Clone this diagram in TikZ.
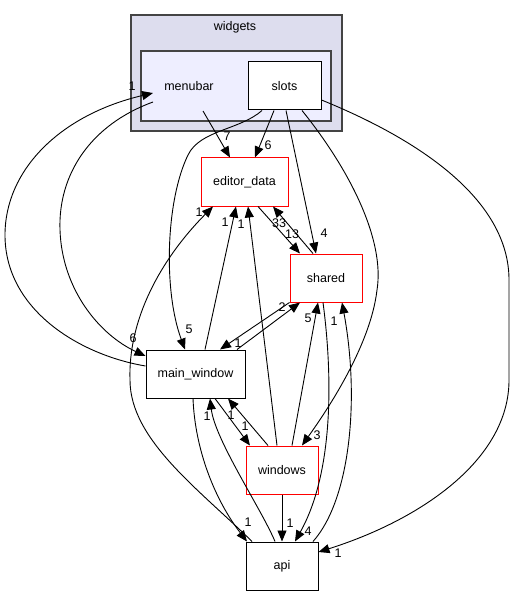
\documentclass[tikz,border=0pt]{standalone}
\usepackage{fontspec}
\setmainfont{Liberation Sans}
\usetikzlibrary{arrows.meta}
\definecolor{bord}{HTML}{444444}
\definecolor{outerfill}{HTML}{DDDDEE}
\definecolor{innerfill}{HTML}{EEEEFF}
\begin{document}
\begin{tikzpicture}[x=1pt,y=-1pt, font=\fontsize{12.5}{14}\selectfont,
  box/.style={draw=black, line width=1pt, fill=white, minimum height=48pt, inner sep=0pt},
  redbox/.style={box, draw=red},
  edge/.style={draw=black, line width=0.9pt, -{Triangle[length=11pt,width=9pt]}},
  lab/.style={inner sep=0pt},
  cluster/.style={draw=bord, line width=1.5pt, inner sep=0pt}]
\useasboundingbox (0,0) rectangle (514,596);
\node[cluster, fill=outerfill, minimum width=211pt, minimum height=116pt] (widgets) at (236.5,73) {};
\node[lab] (widgetslabel) at (235,27) {widgets};
\node[cluster, fill=innerfill, minimum width=190pt, minimum height=70pt] (menubarcl) at (236,86) {};
\node[lab] (menubar) at (189,86) {menubar};
\node[box, minimum width=73pt] (slots) at (284.5,86) {slots};
\node[redbox, minimum width=87pt] (editor) at (244.5,182) {editor\_data};
\node[redbox, minimum width=72pt] (shared) at (326,278) {shared};
\node[box, minimum width=99pt] (mainw) at (195.5,374) {main\_window};
\node[redbox, minimum width=72pt] (windows) at (282,470) {windows};
\node[box, minimum width=72pt] (api) at (282,566) {api};

% edges
\draw[edge] ([xshift=14pt,yshift=-25pt]menubar.center) -- ([xshift=-14.5pt]editor.north);
\draw[edge] ([xshift=-10.5pt]slots.south) -- ([xshift=10.5pt]editor.north);
\draw[edge] ([xshift=-22.5pt]slots.south) .. controls (240,130) and (200,130) .. (188,155) .. controls (166,200) and (163,290) .. ([xshift=-10.5pt]mainw.north);
\draw[edge] ([xshift=1.5pt]slots.south) -- ([xshift=-10pt]shared.north);
\draw[edge] ([xshift=17.5pt]slots.south) .. controls (350,170) and (385,240) .. (377,290) .. controls (370,350) and (320,420) .. ([xshift=20pt]windows.north);
\draw[edge] ([yshift=-14pt]slots.east) .. controls (420,140) and (509,200) .. (509,280) -- (509,380) .. controls (509,460) and (420,520) .. ([yshift=14pt]api.east);
\draw[edge] ([xshift=13.5pt]editor.south) -- ([xshift=-26pt]shared.north);
\draw[edge] ([xshift=-13pt]shared.north) -- ([xshift=28.5pt]editor.south);
\draw[edge] ([xshift=-30pt]api.north) .. controls (200,490) and (130,440) .. (130,380) .. controls (128,320) and (160,260) .. ([xshift=-31.5pt]editor.south);
\draw[edge] ([xshift=9.5pt]mainw.north) -- ([xshift=-8.5pt]editor.south);
\draw[edge] ([xshift=-5pt]windows.north) -- ([xshift=3.5pt]editor.south);
\draw[edge] ([xshift=41.5pt]mainw.north) -- ([xshift=-26pt]shared.south);
\draw[edge] (shared.south west) -- ([xshift=24.5pt]mainw.north);
\draw[edge] ([xshift=-36pt,yshift=-16pt]menubar.center) .. controls (90,125) and (58,175) .. (60,230) .. controls (62,290) and (100,335) .. ([yshift=18pt]mainw.west);
\draw[edge] ([yshift=8pt]mainw.west) .. controls (80,355) and (5,310) .. (5,235) .. controls (5,170) and (60,115) .. ([xshift=-36pt,yshift=-7pt]menubar.center);
\draw[edge] ([xshift=-2.5pt]mainw.south) .. controls (195,450) and (215,500) .. ([xshift=-35pt]api.north);
\draw[edge] ([xshift=-7pt]api.north) .. controls (262,510) and (215,440) .. ([xshift=14.5pt]mainw.south);
\draw[edge] ([xshift=19.5pt]mainw.south) -- ([xshift=-32pt]windows.north);
\draw[edge] ([xshift=-14pt]windows.north) -- ([xshift=32.5pt]mainw.south);
\draw[edge] (windows.south) -- (api.north);
\draw[edge] ([xshift=-3pt]shared.south) .. controls (332,370) and (335,470) .. ([xshift=13pt]api.north);
\draw[edge] ([xshift=31pt]api.north) .. controls (350,500) and (360,400) .. ([xshift=16pt]shared.south);
\draw[edge] ([xshift=10pt]windows.north) -- ([xshift=-8pt]shared.south);

% labels
\node[lab] (l1) at (227,136) {7};
\node[lab] (l2) at (268,145) {6};
\node[lab] (l3) at (189,329) {5};
\node[lab] (l4) at (324,233) {4};
\node[lab] (l5) at (317,435) {3};
\node[lab] (l6) at (338,553) {1};
\node[lab] (l7) at (292,234) {13};
\node[lab] (l8) at (279,223) {33};
\node[lab] (l9) at (199,212) {1};
\node[lab] (l10) at (225,222) {1};
\node[lab] (l11) at (241,224) {1};
\node[lab] (l12) at (282,307) {2};
\node[lab] (l13) at (238,343) {1};
\node[lab] (l14) at (133,338) {6};
\node[lab] (l15) at (132,86) {1};
\node[lab] (l16) at (248,522) {1};
\node[lab] (l17) at (207,416) {1};
\node[lab] (l18) at (245,426) {1};
\node[lab] (l19) at (231,415) {1};
\node[lab] (l20) at (290,523) {1};
\node[lab] (l21) at (308,531) {4};
\node[lab] (l22) at (334,321) {1};
\node[lab] (l23) at (308,318) {5};
\end{tikzpicture}
\end{document}
